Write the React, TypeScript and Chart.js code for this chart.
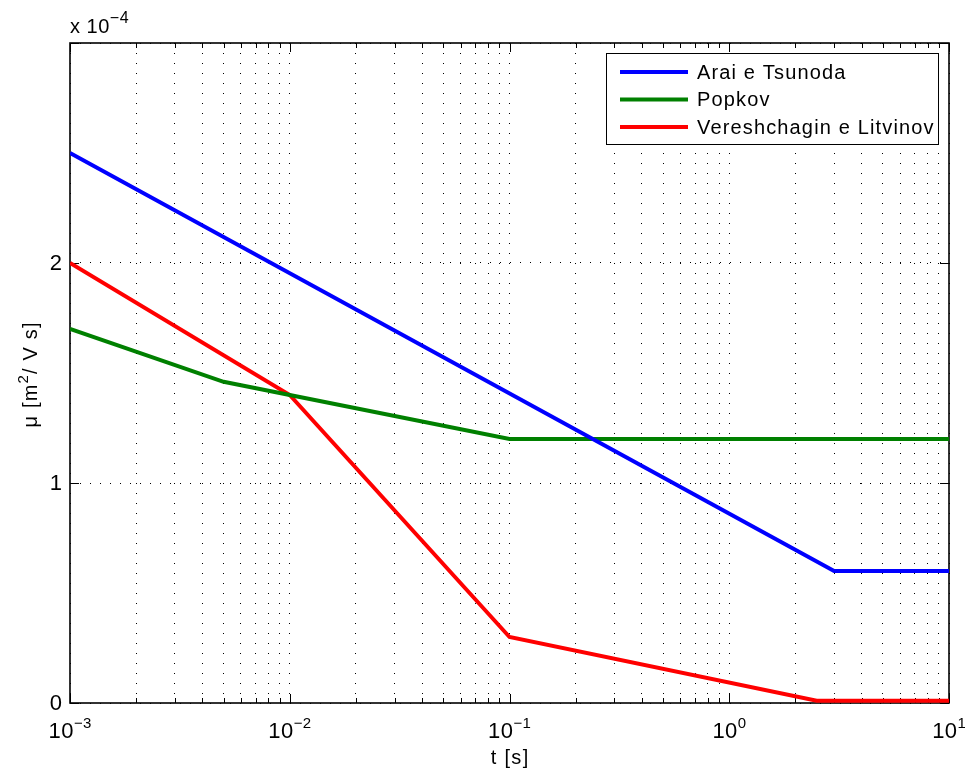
import React, { useEffect, useRef } from 'react';
import { Chart, registerables } from 'chart.js';

Chart.register(...registerables);

// ---- data ----
const seriesNames = ['Arai e Tsunoda', 'Popkov', 'Vereshchagin e Litvinov'];
const seriesColors = ['#0000ff', '#008000', '#ff0000'];

const araiT = [0.001, 3, 10];
const araiMu = [2.5e-4, 0.6e-4, 0.6e-4];

const popkovT = [0.001, 0.005, 0.1, 10];
const popkovMu = [1.7e-4, 1.46e-4, 1.2e-4, 1.2e-4];

const vereT = [0.001, 0.01, 0.1, 2.5, 10];
const vereMu = [2.0e-4, 1.4e-4, 0.3e-4, 0.01e-4, 0.01e-4];

const xMajorExps = [-3, -2, -1, 0, 1];
const xMinorMultipliers = [2, 3, 4, 5, 6, 7, 8, 9];
const yTickValues = [0, 1e-4, 2e-4, 3e-4];
const yTickLabels = ['0', '1', '2', ''];
const yExponentLabel = ['x 10', '\u22124'];
const xTitle = 't [s]';
const yTitleParts = ['\u03bc [m', '2', '/ V s]'];

const FONT = '"Liberation Sans", Arial, Helvetica, sans-serif';

function xTickValues(): number[] {
  const vals: number[] = [];
  for (let i = 0; i < xMajorExps.length; i++) {
    const e = xMajorExps[i];
    vals.push(Math.pow(10, e));
    if (i < xMajorExps.length - 1) {
      for (const m of xMinorMultipliers) vals.push(m * Math.pow(10, e));
    }
  }
  return vals;
}

function isMajor(v: number): boolean {
  const l = Math.log10(v);
  return Math.abs(l - Math.round(l)) < 1e-9;
}

function expText(e: number): string {
  return e < 0 ? '\u2212' + Math.abs(e) : String(e);
}

function setSpacing(ctx: any, px: number) {
  if ('letterSpacing' in ctx) ctx.letterSpacing = `${px}px`;
}

const matlabPlugin = {
  id: 'matlabAxes',
  beforeDatasetsDraw(chart: any) {
    const ctx = chart.ctx as CanvasRenderingContext2D;
    const a = chart.chartArea;
    const xs = chart.scales.x;
    const ys = chart.scales.y;
    ctx.save();
    ctx.strokeStyle = '#000';
    ctx.lineWidth = 1;
    ctx.setLineDash([]);
    for (const v of xTickValues()) {
      const px = Math.round(xs.getPixelForValue(v)) + 0.5;
      const L = isMajor(v) ? 9 : 5;
      ctx.beginPath();
      ctx.moveTo(px, a.bottom);
      ctx.lineTo(px, a.bottom - L);
      ctx.moveTo(px, a.top);
      ctx.lineTo(px, a.top + L);
      ctx.stroke();
    }
    for (const v of yTickValues) {
      const py = Math.round(ys.getPixelForValue(v)) + 0.5;
      ctx.beginPath();
      ctx.moveTo(a.left, py);
      ctx.lineTo(a.left + 9, py);
      ctx.moveTo(a.right, py);
      ctx.lineTo(a.right - 9, py);
      ctx.stroke();
    }
    ctx.lineWidth = 1.6;
    ctx.strokeRect(a.left, a.top, a.right - a.left, a.bottom - a.top);
    ctx.restore();
  },
  afterDraw(chart: any) {
    const ctx = chart.ctx as any;
    const a = chart.chartArea;
    const xs = chart.scales.x;
    const ys = chart.scales.y;
    ctx.save();
    ctx.fillStyle = '#000';
    ctx.setLineDash([]);

    // x tick labels 10^e
    const sx = 0.4;
    setSpacing(ctx, sx);
    for (const e of xMajorExps) {
      const px = xs.getPixelForValue(Math.pow(10, e));
      ctx.font = `22px ${FONT}`;
      const w1 = ctx.measureText('10').width;
      ctx.font = `15px ${FONT}`;
      const et = expText(e);
      const w2 = ctx.measureText(et).width;
      const x0 = px - (w1 + w2 - sx) / 2;
      ctx.textAlign = 'left';
      ctx.textBaseline = 'alphabetic';
      ctx.font = `22px ${FONT}`;
      ctx.fillText('10', x0, a.bottom + 35);
      ctx.font = `15px ${FONT}`;
      ctx.fillText(et, x0 + w1, a.bottom + 25);
    }

    // y tick labels
    setSpacing(ctx, 0);
    ctx.font = `22px ${FONT}`;
    ctx.textAlign = 'right';
    ctx.textBaseline = 'middle';
    yTickValues.forEach((v, i) => {
      const py = ys.getPixelForValue(v);
      if (yTickLabels[i]) ctx.fillText(yTickLabels[i], a.left - 8, py + 1);
    });

    // exponent label x 10^-4
    setSpacing(ctx, 0.5);
    ctx.textAlign = 'left';
    ctx.textBaseline = 'alphabetic';
    ctx.font = `20px ${FONT}`;
    const wb = ctx.measureText(yExponentLabel[0]).width;
    ctx.fillText(yExponentLabel[0], a.left, a.top - 10);
    ctx.font = `16px ${FONT}`;
    ctx.fillText(yExponentLabel[1], a.left + wb, a.top - 20);

    // x title
    const st = 1.3;
    setSpacing(ctx, st);
    ctx.font = `20px ${FONT}`;
    ctx.textAlign = 'left';
    const wt = ctx.measureText(xTitle).width - st;
    ctx.fillText(xTitle, (a.left + a.right) / 2 - wt / 2, a.bottom + 61);

    // y title (rotated)
    ctx.save();
    ctx.translate(a.left - 33, (a.top + a.bottom) / 2 + 2);
    ctx.rotate(-Math.PI / 2);
    const sy = 1.2;
    setSpacing(ctx, sy);
    ctx.font = `20px ${FONT}`;
    const p0 = ctx.measureText(yTitleParts[0]).width;
    const p2 = ctx.measureText(yTitleParts[2]).width;
    ctx.font = `15px ${FONT}`;
    const p1 = ctx.measureText(yTitleParts[1]).width;
    let tx = -(p0 + p1 + p2 - sy) / 2;
    ctx.textAlign = 'left';
    ctx.font = `20px ${FONT}`;
    ctx.fillText(yTitleParts[0], tx, 0);
    tx += p0;
    ctx.font = `15px ${FONT}`;
    ctx.fillText(yTitleParts[1], tx, -9);
    tx += p1;
    ctx.font = `20px ${FONT}`;
    ctx.fillText(yTitleParts[2], tx, 0);
    ctx.restore();

    // legend
    const lx = a.right - 343;
    const ly = a.top + 10;
    const lw = 332;
    const lh = 91;
    ctx.fillStyle = '#fff';
    ctx.fillRect(lx, ly, lw, lh);
    ctx.strokeStyle = '#000';
    ctx.lineWidth = 1;
    ctx.strokeRect(lx + 0.5, ly + 0.5, lw, lh);
    setSpacing(ctx, 1.15);
    chart.data.datasets.forEach((ds: any, i: number) => {
      const cy = ly + 19 + i * 27.5;
      ctx.strokeStyle = ds.borderColor;
      ctx.lineWidth = 4;
      ctx.beginPath();
      ctx.moveTo(lx + 14, cy);
      ctx.lineTo(lx + 82, cy);
      ctx.stroke();
      ctx.fillStyle = '#000';
      ctx.font = `20px ${FONT}`;
      ctx.textAlign = 'left';
      ctx.textBaseline = 'middle';
      ctx.fillText(ds.label, lx + 91, cy + 1);
    });
    setSpacing(ctx, 0);

    ctx.restore();
  },
};

function toPoints(xs: number[], ys: number[]) {
  return xs.map((x, i) => ({ x, y: ys[i] }));
}

export default function App() {
  const ref = useRef<HTMLCanvasElement | null>(null);

  useEffect(() => {
    if (!ref.current) return;
    const seriesT = [araiT, popkovT, vereT];
    const seriesMu = [araiMu, popkovMu, vereMu];
    const chart = new Chart(ref.current, {
      type: 'line',
      data: {
        datasets: seriesNames.map((name, i) => ({
          label: name,
          data: toPoints(seriesT[i], seriesMu[i]),
          borderColor: seriesColors[i],
          backgroundColor: seriesColors[i],
          borderWidth: 4,
          pointRadius: 0,
          tension: 0,
          fill: false,
        })),
      },
      options: {
        animation: false,
        responsive: false,
        devicePixelRatio: 1,
        layout: { padding: { left: 70, top: 43, right: 16, bottom: 66 } },
        plugins: {
          legend: { display: false },
          tooltip: { enabled: false },
        },
        scales: {
          x: {
            type: 'logarithmic',
            min: 1e-3,
            max: 10,
            afterBuildTicks: (scale: any) => {
              scale.ticks = xTickValues().map((v) => ({ value: v }));
            },
            ticks: { display: false },
            grid: { display: true, drawTicks: false, color: '#000', lineWidth: 1 },
            border: { display: false, dash: [1, 9] },
          },
          y: {
            type: 'linear',
            min: 0,
            max: 3e-4,
            afterBuildTicks: (scale: any) => {
              scale.ticks = yTickValues.map((v) => ({ value: v }));
            },
            ticks: { display: false },
            grid: { display: true, drawTicks: false, color: '#000', lineWidth: 1 },
            border: { display: false, dash: [1, 9] },
          },
        },
      } as any,
      plugins: [matlabPlugin],
    });
    return () => chart.destroy();
  }, []);

  return (
    <div style={{ position: 'absolute', left: 0, top: 0, width: 965, height: 769, background: '#fff' }}>
      <canvas ref={ref} width={965} height={769} style={{ display: 'block' }} />
    </div>
  );
}
